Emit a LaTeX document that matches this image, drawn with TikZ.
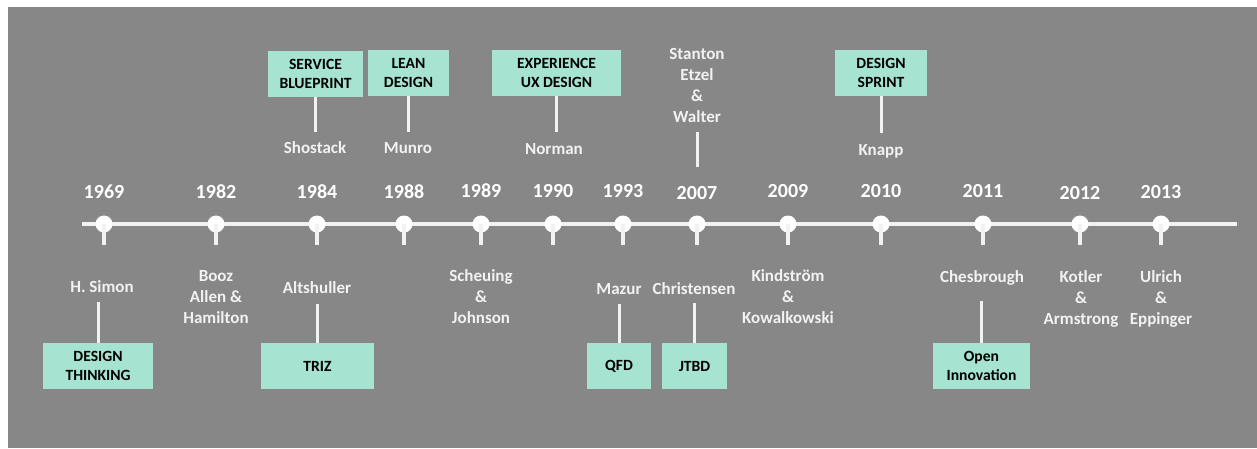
\documentclass[tikz,border=0pt]{standalone}
\usepackage{fontspec}
\setmainfont{Carlito}
\definecolor{bggray}{RGB}{135,135,135}
\definecolor{mint}{RGB}{166,227,208}
\definecolor{paper}{RGB}{242,242,242}

\begin{document}
\begin{tikzpicture}[x=1pt,y=-1pt,
	axis/.style={line width=4pt,paper},
	stub/.style={line width=3.5pt,paper},
	stem/.style={line width=3pt,paper},
	dot/.style={circle,fill=white,minimum size=17,inner sep=0},
	year/.style={inner sep=0,text=white,font=\fontsize{20}{24}\selectfont\bfseries},
	who/.style={inner sep=0,text=paper,align=center,font=\fontsize{17}{21}\selectfont\bfseries},
	method/.style={fill=mint,minimum width=#1,minimum height=46,inner sep=0,text=black,align=center,font=\fontsize{15.6}{19}\selectfont\bfseries}]
	\useasboundingbox (0,0) rectangle (1257,448);
	\fill[bggray] (8,7) rectangle (1257,448);
	% timeline
	\coordinate (tstart) at (82,224);
	\coordinate (tend) at (1237,224);
	\draw[axis] (tstart)--(tend);
	\node[dot] (d1969) at (104,224) {};
	\node[dot] (d1982) at (216,224) {};
	\node[dot] (d1984) at (317,224) {};
	\node[dot] (d1988) at (404,224) {};
	\node[dot] (d1989) at (481,224) {};
	\node[dot] (d1990) at (553,224) {};
	\node[dot] (d1993) at (623,224) {};
	\node[dot] (d2007) at (697,224) {};
	\node[dot] (d2009) at (788,224) {};
	\node[dot] (d2010) at (881,224) {};
	\node[dot] (d2011) at (983,224) {};
	\node[dot] (d2012) at (1080,224) {};
	\node[dot] (d2013) at (1161,224) {};
	\foreach \d in {d1969,d1982,d1984,d1988,d1989,d1990,d1993,d2007,d2009,d2010,d2011,d2012,d2013}
		\draw[stub] (\d.center)--++(0,21);
	% years
	\node[year] (y1969) at (104,192) {1969};
	\node[year] (y1982) at (216,192) {1982};
	\node[year] (y1984) at (317,192) {1984};
	\node[year] (y1988) at (404,192) {1988};
	\node[year] (y1989) at (481,191) {1989};
	\node[year] (y1990) at (553,191) {1990};
	\node[year] (y1993) at (623,191) {1993};
	\node[year] (y2007) at (697,193) {2007};
	\node[year] (y2009) at (788,191) {2009};
	\node[year] (y2010) at (881,191) {2010};
	\node[year] (y2011) at (983,191) {2011};
	\node[year] (y2012) at (1080,193) {2012};
	\node[year] (y2013) at (1161,192) {2013};
	% above the line
	\node[method=95] (blueprint) at (315.5,73.5) {SERVICE\\BLUEPRINT};
	\node[method=81] (lean) at (408.5,72.5) {LEAN\\DESIGN};
	\node[method=129] (ux) at (556.5,72.5) {EXPERIENCE\\UX DESIGN};
	\node[method=92] (sprint) at (881,73) {DESIGN\\SPRINT};
	\node[who] (shostack) at (315,148) {Shostack};
	\node[who] (munro) at (408,148) {Munro};
	\node[who] (norman) at (554,149) {Norman};
	\node[who] (knapp) at (881,151) {Knapp};
	\node[who] (stanton) at (697,85) {Stanton\\Etzel\\\&\\Walter};
	\coordinate (stantonend) at (697,167);
	\draw[stem,shorten >=10pt] (blueprint.south)--(blueprint.south |- shostack.north);
	\draw[stem,shorten >=10pt] (lean.south)--(lean.south |- munro.north);
	\draw[stem,shorten >=11pt] (ux.south)--(ux.south |- norman.north);
	\draw[stem,shorten >=11pt] (sprint.south)--(sprint.south |- knapp.north);
	\draw[stem,shorten <=10pt] (stanton.south)--(stantonend);
	% below the line
	\node[who] (simon) at (102,287) {H. Simon};
	\node[who] (booz) at (216,297.5) {Booz\\Allen \&\\Hamilton};
	\node[who] (altshuller) at (317,288) {Altshuller};
	\node[who] (scheuing) at (481,297) {Scheuing\\\&\\Johnson};
	\node[who] (mazur) at (619,289) {Mazur};
	\node[who] (christensen) at (694,289) {Christensen};
	\node[who] (kindstrom) at (788,297) {Kindström\\\&\\Kowalkowski};
	\node[who] (chesbrough) at (982,278) {Chesbrough};
	\node[who] (kotler) at (1081,299) {Kotler\\\&\\Armstrong};
	\node[who] (ulrich) at (1161,299) {Ulrich\\\&\\Eppinger};
	\node[method=110] (thinking) at (98,366) {DESIGN\\THINKING};
	\node[method=113] (triz) at (317.5,366) {TRIZ};
	\node[method=64] (qfd) at (619,366) {QFD};
	\node[method=65] (jtbd) at (694.5,366) {JTBD};
	\node[method=97] (openinno) at (981.5,366) {Open\\Innovation};
	\draw[stem,shorten <=9pt] (thinking.north |- simon.south)--(thinking.north);
	\draw[stem,shorten <=10pt] (triz.north |- altshuller.south)--(triz.north);
	\draw[stem,shorten <=9pt] (qfd.north |- mazur.south)--(qfd.north);
	\draw[stem,shorten <=8pt] (jtbd.north |- christensen.south)--(jtbd.north);
	\draw[stem,shorten <=15pt] (openinno.north |- chesbrough.south)--(openinno.north);
\end{tikzpicture}
\end{document}
